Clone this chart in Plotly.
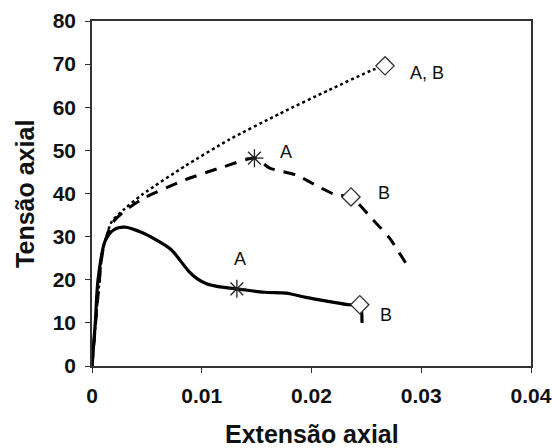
import plotly.graph_objects as go

# Dotted series (A, B coincide)
dot_x = [0, 0.0005, 0.001, 0.0018, 0.003, 0.0046, 0.0085, 0.0125, 0.0171, 0.0216, 0.0256, 0.0267]
dot_y = [0, 15, 27, 33.5, 36.5, 39.8, 46.4, 52.5, 58.5, 64.0, 68.7, 69.6]

# Dashed series
dash_x = [0, 0.0005, 0.001, 0.0018, 0.003, 0.0048, 0.0085, 0.012, 0.0148, 0.0162, 0.0186, 0.0207, 0.0222, 0.0236, 0.0256, 0.0271, 0.0287]
dash_y = [0, 15, 27, 33, 36, 39, 43.2, 46.2, 48.2, 45.9, 44.3, 41.5, 39.7, 39.2, 33.9, 29.7, 23.4]

# Solid series
sol_x = [0, 0.0003, 0.00055, 0.0012, 0.002, 0.003, 0.0045, 0.006, 0.0072, 0.008, 0.0088, 0.0096, 0.0105, 0.0115, 0.0132, 0.0157, 0.0177, 0.0195, 0.0215, 0.0235, 0.0244, 0.0246]
sol_y = [0, 10, 20, 29, 31.6, 32.2, 31.0, 29.0, 27.0, 24.6, 22.0, 20.2, 19.0, 18.4, 17.9, 17.1, 16.9, 15.9, 15.0, 14.2, 14.2, 10.0]

# Marked points
star_x = [0.0148, 0.0132]
star_y = [48.2, 17.9]
diam_x = [0.0267, 0.0236, 0.0244]
diam_y = [69.6, 39.2, 14.2]

# Labels
lab_text = ["A", "A", "A, B", "B", "B"]
lab_x = [0.01345, 0.0177, 0.0305, 0.0266, 0.0268]
lab_y = [24.8, 49.7, 68.0, 40.1, 11.8]

x_ticks = [0, 0.01, 0.02, 0.03, 0.04]
x_tick_text = ["0", "0.01", "0.02", "0.03", "0.04"]
y_ticks = [0, 10, 20, 30, 40, 50, 60, 70, 80]
y_tick_text = ["0", "10", "20", "30", "40", "50", "60", "70", "80"]

FONT = "Liberation Sans, Arial"

fig = go.Figure()
fig.add_trace(go.Scatter(x=dot_x, y=dot_y, mode="lines",
                         line=dict(color="black", width=2.5, dash="dot", shape="spline", smoothing=0.6), showlegend=False))
fig.add_trace(go.Scatter(x=dash_x, y=dash_y, mode="lines",
                         line=dict(color="black", width=3, dash="12px,9px", shape="spline", smoothing=0.6), showlegend=False))
fig.add_trace(go.Scatter(x=sol_x, y=sol_y, mode="lines",
                         line=dict(color="black", width=3.2, shape="spline", smoothing=0.8), showlegend=False))
fig.add_trace(go.Scatter(x=star_x, y=star_y, mode="markers",
                         marker=dict(symbol="asterisk-open", size=15, color="#222", line=dict(color="#222", width=1.3)), showlegend=False))
fig.add_trace(go.Scatter(x=diam_x, y=diam_y, mode="markers",
                         marker=dict(symbol="diamond", size=14, color="white", line=dict(color="#333", width=1.3)), showlegend=False))

for t, x, y in zip(lab_text, lab_x, lab_y):
    fig.add_annotation(x=x, y=y, text=t, showarrow=False, xref="x", yref="y",
                       font=dict(family=FONT, size=18, color="#111"))

# Axis titles
fig.add_annotation(x=0.5, y=-0.197, xref="paper", yref="paper", xanchor="center", yanchor="middle",
                   text="<b>Extensão axial</b>",
                   showarrow=False, font=dict(family=FONT, size=25, color="#111"))
fig.add_annotation(x=-0.154, y=0.5, xref="paper", yref="paper", xanchor="center", yanchor="middle",
                   text="<b>Tensão axial</b>", textangle=-90,
                   showarrow=False, font=dict(family=FONT, size=25, color="#111"))

fig.update_layout(
    width=552, height=448,
    margin=dict(l=92, r=21, t=21, b=82, autoexpand=False),
    plot_bgcolor="white", paper_bgcolor="white",
    font=dict(family=FONT, color="#111"),
)
fig.update_xaxes(range=[0, 0.04], tickvals=x_ticks, ticktext=["<b>%s</b>" % t for t in x_tick_text],
                 showgrid=False, zeroline=False, showline=True, linecolor="#333", linewidth=1.5, mirror=True,
                 ticks="outside", ticklen=5, tickcolor="#333", automargin=False, ticklabelstandoff=5,
                 ticklabeloverflow="allow",
                 tickfont=dict(family=FONT, size=21, color="#111"))
fig.update_yaxes(range=[0, 80], tickvals=y_ticks, ticktext=["<b>%s</b>" % t for t in y_tick_text],
                 showgrid=False, zeroline=False, showline=True, linecolor="#333", linewidth=1.5, mirror=True,
                 ticks="outside", ticklen=5, tickcolor="#333", automargin=False, ticklabelstandoff=5,
                 ticklabeloverflow="allow",
                 tickfont=dict(family=FONT, size=21, color="#111"))

fig.write_html("out.html")
